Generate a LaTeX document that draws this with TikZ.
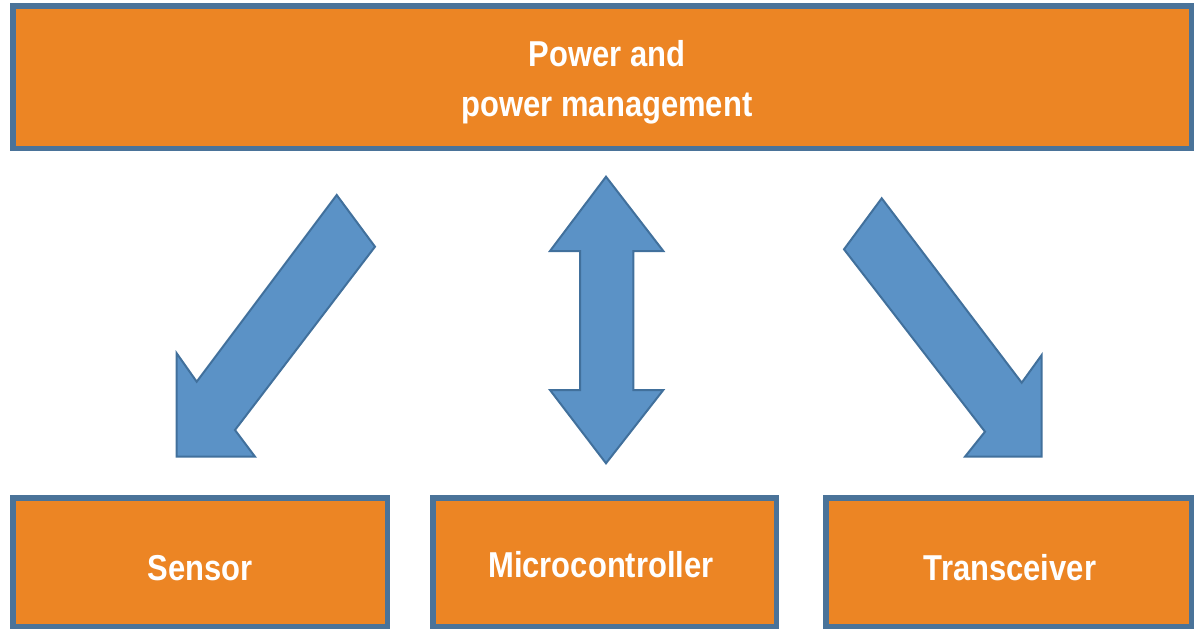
\documentclass[tikz,border=0pt]{standalone}
\usepackage{fontspec}
\newfontfamily\lblfont{Liberation Sans}[FakeStretch=0.86]
\definecolor{boxorange}{HTML}{EC8524}
\definecolor{boxborder}{HTML}{4A7399}
\definecolor{arrowfill}{HTML}{5B92C6}
\definecolor{arrowborder}{HTML}{41709C}
\tikzset{
  blockbox/.style={draw=boxborder, fill=boxorange, line width=5.5pt, rectangle, inner sep=0pt},
  lbl/.style={text=white, font=\lblfont\bfseries\fontsize{36}{50}\selectfont, inner sep=0pt, anchor=base},
  blockarrow/.style={draw=arrowborder, fill=arrowfill, line width=2pt, line join=miter}
}
\begin{document}
\begin{tikzpicture}[x=1pt,y=-1pt]
\useasboundingbox (0,0) rectangle (1194,629);
% boxes
\node[blockbox, minimum width=1178.5pt, minimum height=142.5pt] (pm) at (602,77) {};
\node[blockbox, minimum width=374.5pt, minimum height=128.5pt] (sen) at (200,562) {};
\node[blockbox, minimum width=343.5pt, minimum height=128.5pt] (mcu) at (604.5,562) {};
\node[blockbox, minimum width=365.5pt, minimum height=128.5pt] (trx) at (1008.5,562) {};
% labels
\node[lbl] (pmt1) at (607,66.7) {Power and};
\node[lbl] (pmt2) at (607,116.7) {power management};
\node[lbl] (sent) at (200,580) {Sensor};
\node[lbl] (mcut) at (601,577) {Microcontroller};
\node[lbl] (trxt) at (1010,580) {Transceiver};
% block arrows
\draw[blockarrow] (336.7,195) -- (375,246.7) -- (235,430) -- (255,456.7) -- (176.7,456.7) -- (176.7,353.3) -- (196.7,381.7) -- cycle;
\draw[blockarrow] (606,176.7) -- (663.3,251) -- (633.3,251) -- (633.3,390) -- (663.3,390) -- (606,463.3) -- (550,390) -- (580,390) -- (580,251) -- (550,251) -- cycle;
\draw[blockarrow] (881.7,198.3) -- (844,249.3) -- (985,431.7) -- (965,456.7) -- (1041.7,456.7) -- (1041.7,355) -- (1021.7,382.7) -- cycle;
\end{tikzpicture}
\end{document}
